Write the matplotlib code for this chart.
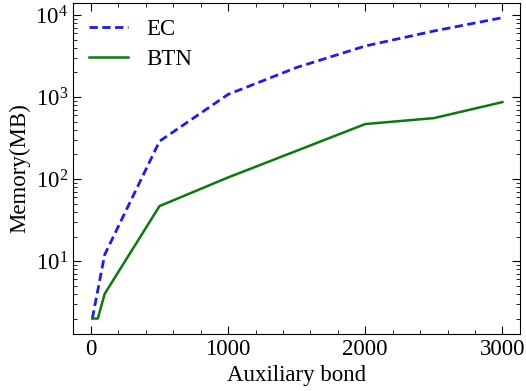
import matplotlib
matplotlib.use("Agg")
import matplotlib.pyplot as plt
from matplotlib.ticker import MultipleLocator

# Данные
ec_bond = [10, 100, 500, 1000, 1500, 2000, 2500, 3000]
ec_memory = [2, 12, 290, 1080, 2300, 4200, 6400, 9300]
btn_bond = [10, 50, 100, 500, 1000, 1500, 2000, 2500, 3000]
btn_memory = [2, 2, 4, 47, 105, 222, 470, 555, 870]

plt.rcParams['font.family'] = ['Liberation Serif', 'DejaVu Serif']
plt.rcParams['mathtext.fontset'] = 'stix'

fig = plt.figure(figsize=(5.26, 3.91), dpi=100)
ax = fig.add_axes([0.139, 0.146, 0.85, 0.846])

ax.plot(ec_bond, ec_memory, '--', color='#1a1aff', lw=2, dashes=(3, 1.6), label='EC')
ax.plot(btn_bond, btn_memory, '-', color='#0b7a0b', lw=1.8, label='BTN')

ax.set_yscale('log')
ax.set_xlim(-130, 3130)
ax.set_ylim(1.3, 14000)
ax.xaxis.set_major_locator(MultipleLocator(1000))
ax.xaxis.set_minor_locator(MultipleLocator(200))
ax.tick_params(which='both', direction='in', top=True, right=True, labelsize=16.5)
ax.tick_params(which='major', length=6)
ax.tick_params(which='minor', length=3)

ax.set_xlabel('Auxiliary bond', fontsize=16.5)
ax.set_ylabel('Memory(MB)', fontsize=16.5)
ax.legend(loc='upper left', frameon=False, fontsize=16.5, handlelength=1.7,
          borderaxespad=0.3, labelspacing=0.4)

fig.savefig('out.png', dpi=100)
